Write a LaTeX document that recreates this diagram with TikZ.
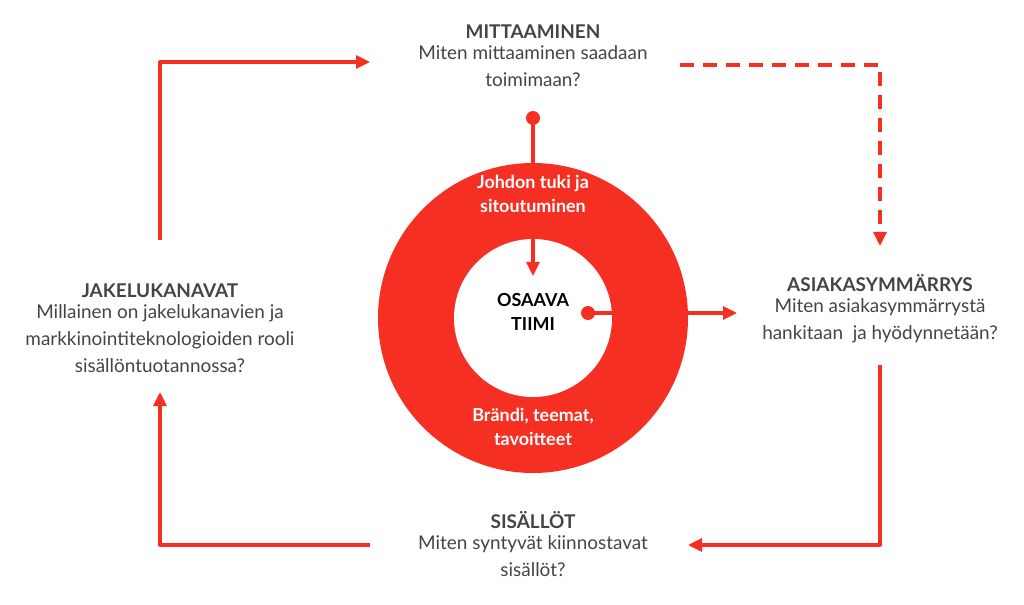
\documentclass[tikz,border=0pt]{standalone}
\usepackage{fontspec}
\setmainfont{Lato}
\usetikzlibrary{arrows.meta,positioning}
\definecolor{ringred}{HTML}{F52F22}
\definecolor{textgrey}{HTML}{444444}
\begin{document}
\begin{tikzpicture}[x=1bp,y=-1bp,line join=round,>={Triangle[length=14bp,width=13bp]},line width=3.2bp]
        \tikzset{head style/.style={font=\fontsize{19}{27}\selectfont\bfseries,text=textgrey},
                 body style/.style={font=\fontsize{19}{27}\selectfont,text=textgrey,align=center},
                 ring style/.style={font=\fontsize{18}{24}\selectfont\bfseries,align=center},
                 flow/.style={draw=ringred,->}}
        \useasboundingbox (0,0) rectangle (1024,605);
        % ring
        \fill[ringred] (533,318) circle (155);
        \fill[white] (533,318) circle (79);
        % headings
        \node[head style] (mitta) at (533,32) {MITTAAMINEN};
        \node[body style,below=-3bp of mitta] (mittaq) {Miten mittaaminen saadaan\\toimimaan?};
        \node[head style] (jakelu) at (160,291) {JAKELUKANAVAT};
        \node[body style,below=-3bp of jakelu] (jakeluq) {Millainen on jakelukanavien ja\\markkinointiteknologioiden rooli\\sisällöntuotannossa?};
        \node[head style] (asiakas) at (880,283) {ASIAKASYMMÄRRYS};
        \node[body style,below=-3bp of asiakas] (asiakasq) {Miten asiakasymmärrystä\\hankitaan\ \ ja hyödynnetään?};
        \node[head style] (sisal) at (533,520) {SISÄLLÖT};
        \node[body style,below=-3bp of sisal] (sisalq) {Miten syntyvät kiinnostavat\\sisällöt?};
        % connectors
        \coordinate (c1) at (160,62);
        \coordinate (c2) at (880,65);
        \coordinate (c3) at (880,545);
        \coordinate (c4) at (160,545);
        \draw[flow] (160,240) -- (c1) -- (370,62);
        \draw[flow,dashed,dash pattern=on 14bp off 9bp] (680,65) -- (c2) -- (880,246);
        \draw[flow] (880,365) -- (c3) -- (688,545);
        \draw[flow] (370,545) -- (c4) -- (160,392);
        % centre
        \coordinate (d1) at (533,118);
        \coordinate (d2) at (588,313);
        \fill[ringred] (d1) circle (7);
        \fill[ringred] (d2) circle (7);
        \draw[flow] (d1) -- (533,276);
        \draw[flow] (d2) -- (737,313);
        \node[ring style,text=white] (tuki) at (533,194) {Johdon tuki ja\\sitoutuminen};
        \node[ring style,text=white] (brandi) at (533,427) {Brändi, teemat,\\tavoitteet};
        \node[ring style,text=black] (tiimi) at (533,312) {OSAAVA\\TIIMI};
\end{tikzpicture}
\end{document}
